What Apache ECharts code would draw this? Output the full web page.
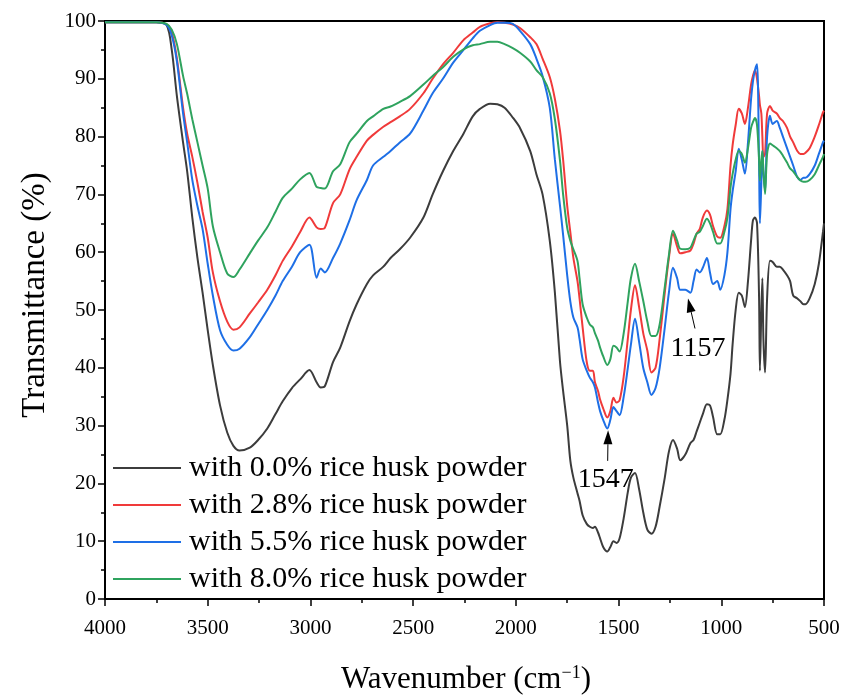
<!DOCTYPE html>
<html><head><meta charset="utf-8">
<script src="https://cdn.jsdelivr.net/npm/echarts@6/dist/echarts.min.js"></script>
<style>html,body{margin:0;padding:0;background:#fff}#c{width:846px;height:695px}</style>
</head><body><div id="c"></div>
<script>
const wavenumbers = [4000,3850,3750,3700,3675,3650,3620,3600,3575,3550,3525,3500,3475,3440,3405,3375,3345,3295,3255,3210,3170,3135,3090,3050,3005,2970,2950,2930,2890,2855,2810,2775,2725,2695,2645,2610,2565,2515,2450,2405,2355,2305,2255,2210,2175,2125,2090,2055,2015,1980,1930,1900,1870,1835,1810,1785,1770,1750,1735,1720,1700,1690,1675,1655,1640,1625,1615,1600,1590,1575,1555,1540,1525,1510,1495,1475,1455,1440,1420,1400,1380,1360,1340,1320,1300,1275,1255,1235,1215,1200,1175,1150,1135,1120,1105,1090,1070,1055,1040,1020,1005,985,970,955,945,930,915,900,885,870,855,846,836,826,816,812,805,800,795,787,777,763,750,730,715,700,680,665,650,630,615,600,590,570,545,525,505,500];

const t00 = [99.8,99.8,99.8,99.3,95,87,79,74,66,59,53,46.5,40.5,33.5,28.8,26.5,25.7,26.2,27.5,29.5,32,34.2,36.5,38,39.6,37.5,36.6,36.8,41,43.5,48,51,54.5,56,57.5,59,60.5,62.5,66,70,74,77.5,80.5,83.5,84.8,85.7,85.6,85,83.3,81.5,77.5,73.5,70,62,53,41,36,30,24,21,18.3,17,14.5,13,12.5,12.3,12.5,11.5,10.5,9,8.2,9,10,9.7,10.5,14,18.5,21,21.8,19,15,12,11.3,12.5,16,21,25.5,27.5,26,24,25,27,27.5,29,30.5,32,33.7,33.5,31.5,28.5,28.5,31,34.5,39,44,50,53,52.5,50.5,55,62,65.5,66,65,52,39.5,50,55.5,45,39.2,52,58.5,58.3,57.5,57.5,57,56,55,52.5,52,51.5,51,51,52,54.5,58,63.5,65];

const t28 = [99.8,99.8,99.8,99.4,98,93.5,85,80.5,76.5,72,67,62.5,56.5,51.5,48,46.6,47,49.4,51.3,53.5,56,58.5,61,63.5,66,64.3,64,64.2,68.5,70,74.3,76.5,79.3,80.3,81.7,82.5,83.5,84.8,87.5,90,92.5,94.5,96.7,98,99,99.6,99.8,99.7,99.4,98.8,97.2,96,93.5,90.3,86.5,81,76,68,63.5,59,55,52,47,41,39.5,39.5,37.5,36,34.5,33,31.4,32.5,34.8,34,34.4,38.5,45,50,54.3,50.5,46,43,39.2,40,45,53,59,63.2,61,59.8,60,60.3,61.5,63.2,64,66,67.2,66.5,64.5,62.7,62.5,64.5,67.5,75,78.5,82,84.8,84,82.2,85,89,90.5,91.5,90,87,85.5,84,80,76.5,77,84,85.3,84.5,84,83.2,82.7,81.5,80,79,77.5,77,77,77.2,78,80,82,84.2,84.5];

const t55 = [99.8,99.8,99.8,99.3,97.5,93,84,79,72.5,68,64,58,52.5,46.5,44,43,43.3,45.3,47.5,50,52.5,55,57.5,60,61.3,55.6,57.2,56.5,59,61.5,65.5,69,72.5,75,76.5,77.5,79,80.5,84.5,87.5,90,92.8,95,97,98.3,99.3,99.7,99.7,99.5,98.3,96,93.5,90.5,85,76,68,63,56,51.5,48.7,47,45,41.5,39.5,38.3,37.5,36.6,34,32.5,31,29.5,31,33.2,32.5,31.8,35,40,44,48.5,44.5,40,37.5,35.3,36.5,40,47,53,57.3,55.5,53.5,53.5,53,55,57,56.5,57.3,59,56.5,54.5,55,53.5,56,60,67.5,70.5,74,77.9,76,73.6,79,86.5,89.5,91.5,92.5,75,65,72,77.5,74,70.5,80,83.6,82.2,82.7,81.5,80,78,76.5,75,73,72.5,72.9,72.9,73.5,75,77,79,79.3];

const t80 = [99.8,99.8,99.8,99.5,98.5,96,90.5,87.4,83,79,75,71,64.5,60,56.3,55.7,57,59.8,62,64.3,67,69.4,71,72.6,73.7,71.3,71.1,71,74,75.2,79,80.5,82.7,83.5,84.8,85.2,86,87,89,90.5,92,93.8,95.1,95.8,96,96.4,96.4,96,95.3,94.5,93,91.5,90.3,87.5,83,75.8,70,64.2,62,60.5,58.5,55.5,51,48.7,47.5,47,46,44.7,43.5,42,40.5,41.5,43.8,43.5,42.8,46,51.5,55.5,58,55,51.6,48,45.5,45.5,47.5,54,59.5,63.7,62,60.6,60.5,60.8,62,63.2,63.5,64.5,65.8,65,63.5,61.5,61.5,63.5,66,71.2,73.5,76,77.5,77,75.5,78,81.5,82.5,83.2,82,76,72.4,76,77.5,74,70.1,77,78.8,78.5,78,77.5,76.7,75.5,74.5,74,73,72.4,72.2,72.2,72.5,73.5,75,76.5,77];

const seriesNames = ['with 0.0% rice husk powder','with 2.8% rice husk powder','with 5.5% rice husk powder','with 8.0% rice husk powder'];
const seriesValues = [t00, t28, t55, t80];
const seriesColors = ['#3c3c3c','#f03a3a','#1e6fe6','#2fa35e'];

// annotation arrows: label text, arrow tip, arrow tail, label centre (data coords)
const annotations = [
  {text:'1547', tip:[1551,29.2], tail:[1553,23.9], label:[1563,20.7]},
  {text:'1157', tip:[1162,52.0], tail:[1128,46.8], label:[1113,43.4]}
];

const FONT = "'Liberation Serif','Times New Roman',serif";
const chart = echarts.init(document.getElementById('c'));

const option = {
  animation:false,
  backgroundColor:'#fff',
  grid:{left:105, right:22, top:21, bottom:96, show:true, borderColor:'#000', borderWidth:2, backgroundColor:'transparent'},
  xAxis:{
    type:'value', inverse:true, min:500, max:4000, interval:500,
    axisLine:{show:true, onZero:false, lineStyle:{color:'#000', width:2}},
    axisTick:{show:true, length:7, lineStyle:{color:'#000', width:1.5}},
    minorTick:{show:true, splitNumber:2, length:4, lineStyle:{color:'#000', width:1.5}},
    splitLine:{show:false}, minorSplitLine:{show:false},
    axisLabel:{color:'#000', fontFamily:FONT, fontSize:21, margin:19, formatter:v=>String(v)}
  },
  yAxis:{
    type:'value', min:0, max:100, interval:10,
    axisLine:{show:true, onZero:false, lineStyle:{color:'#000', width:2}},
    axisTick:{show:true, length:7, lineStyle:{color:'#000', width:1.5}},
    minorTick:{show:true, splitNumber:2, length:4, lineStyle:{color:'#000', width:1.5}},
    splitLine:{show:false}, minorSplitLine:{show:false},
    axisLabel:{color:'#000', fontFamily:FONT, fontSize:21, margin:9, formatter:v=>String(v)}
  },
  legend:{
    orient:'vertical', left:108, top:448, itemWidth:68, itemHeight:2, itemGap:7, icon:'rect',
    textStyle:{fontFamily:FONT, fontSize:30, color:'#000', lineHeight:30, padding:[0,0,0,3]},
    data:seriesNames
  },
  series: seriesNames.map((name,i)=>({
    name:name, type:'line', showSymbol:false, symbol:'none', smooth:0.3,
    color:seriesColors[i],
    lineStyle:{width:2, color:seriesColors[i]},
    data: wavenumbers.map((w,j)=>[w, seriesValues[i][j]])
  }))
};
chart.setOption(option);

function px(pt){ return chart.convertToPixel({gridIndex:0}, pt); }
const g = [];
annotations.forEach(a=>{
  const tip = px(a.tip), tail = px(a.tail), lab = px(a.label);
  const dx = tip[0]-tail[0], dy = tip[1]-tail[1];
  const len = Math.sqrt(dx*dx+dy*dy), ux = dx/len, uy = dy/len;
  const hl = 14, hw = 4.5;
  const bx = tip[0]-ux*hl, by = tip[1]-uy*hl;
  g.push({type:'line', shape:{x1:tail[0], y1:tail[1], x2:bx, y2:by}, style:{stroke:'#000', lineWidth:1}, z:100});
  g.push({type:'polygon', shape:{points:[[tip[0],tip[1]],[bx-uy*hw, by+ux*hw],[bx+uy*hw, by-ux*hw]]}, style:{fill:'#000'}, z:100});
  g.push({type:'text', x:lab[0], y:lab[1], style:{text:a.text, fontFamily:FONT, fontSize:28, fill:'#000', align:'center', verticalAlign:'middle'}, z:100});
});
g.push({type:'text', x:35, y:295, rotation:Math.PI/2, style:{text:'Transmittance (%)', fontFamily:FONT, fontSize:33, fill:'#000', align:'center', verticalAlign:'middle'}});
g.push({type:'text', x:466, y:680, style:{text:'{a|Wavenumber (cm}{s|\u22121}{a|)}', align:'center', verticalAlign:'middle', rich:{a:{fontFamily:FONT, fontSize:31, fill:'#000'}, s:{fontFamily:FONT, fontSize:18, fill:'#000', verticalAlign:'top'}}}});
chart.setOption({graphic:g});
</script></body></html>
